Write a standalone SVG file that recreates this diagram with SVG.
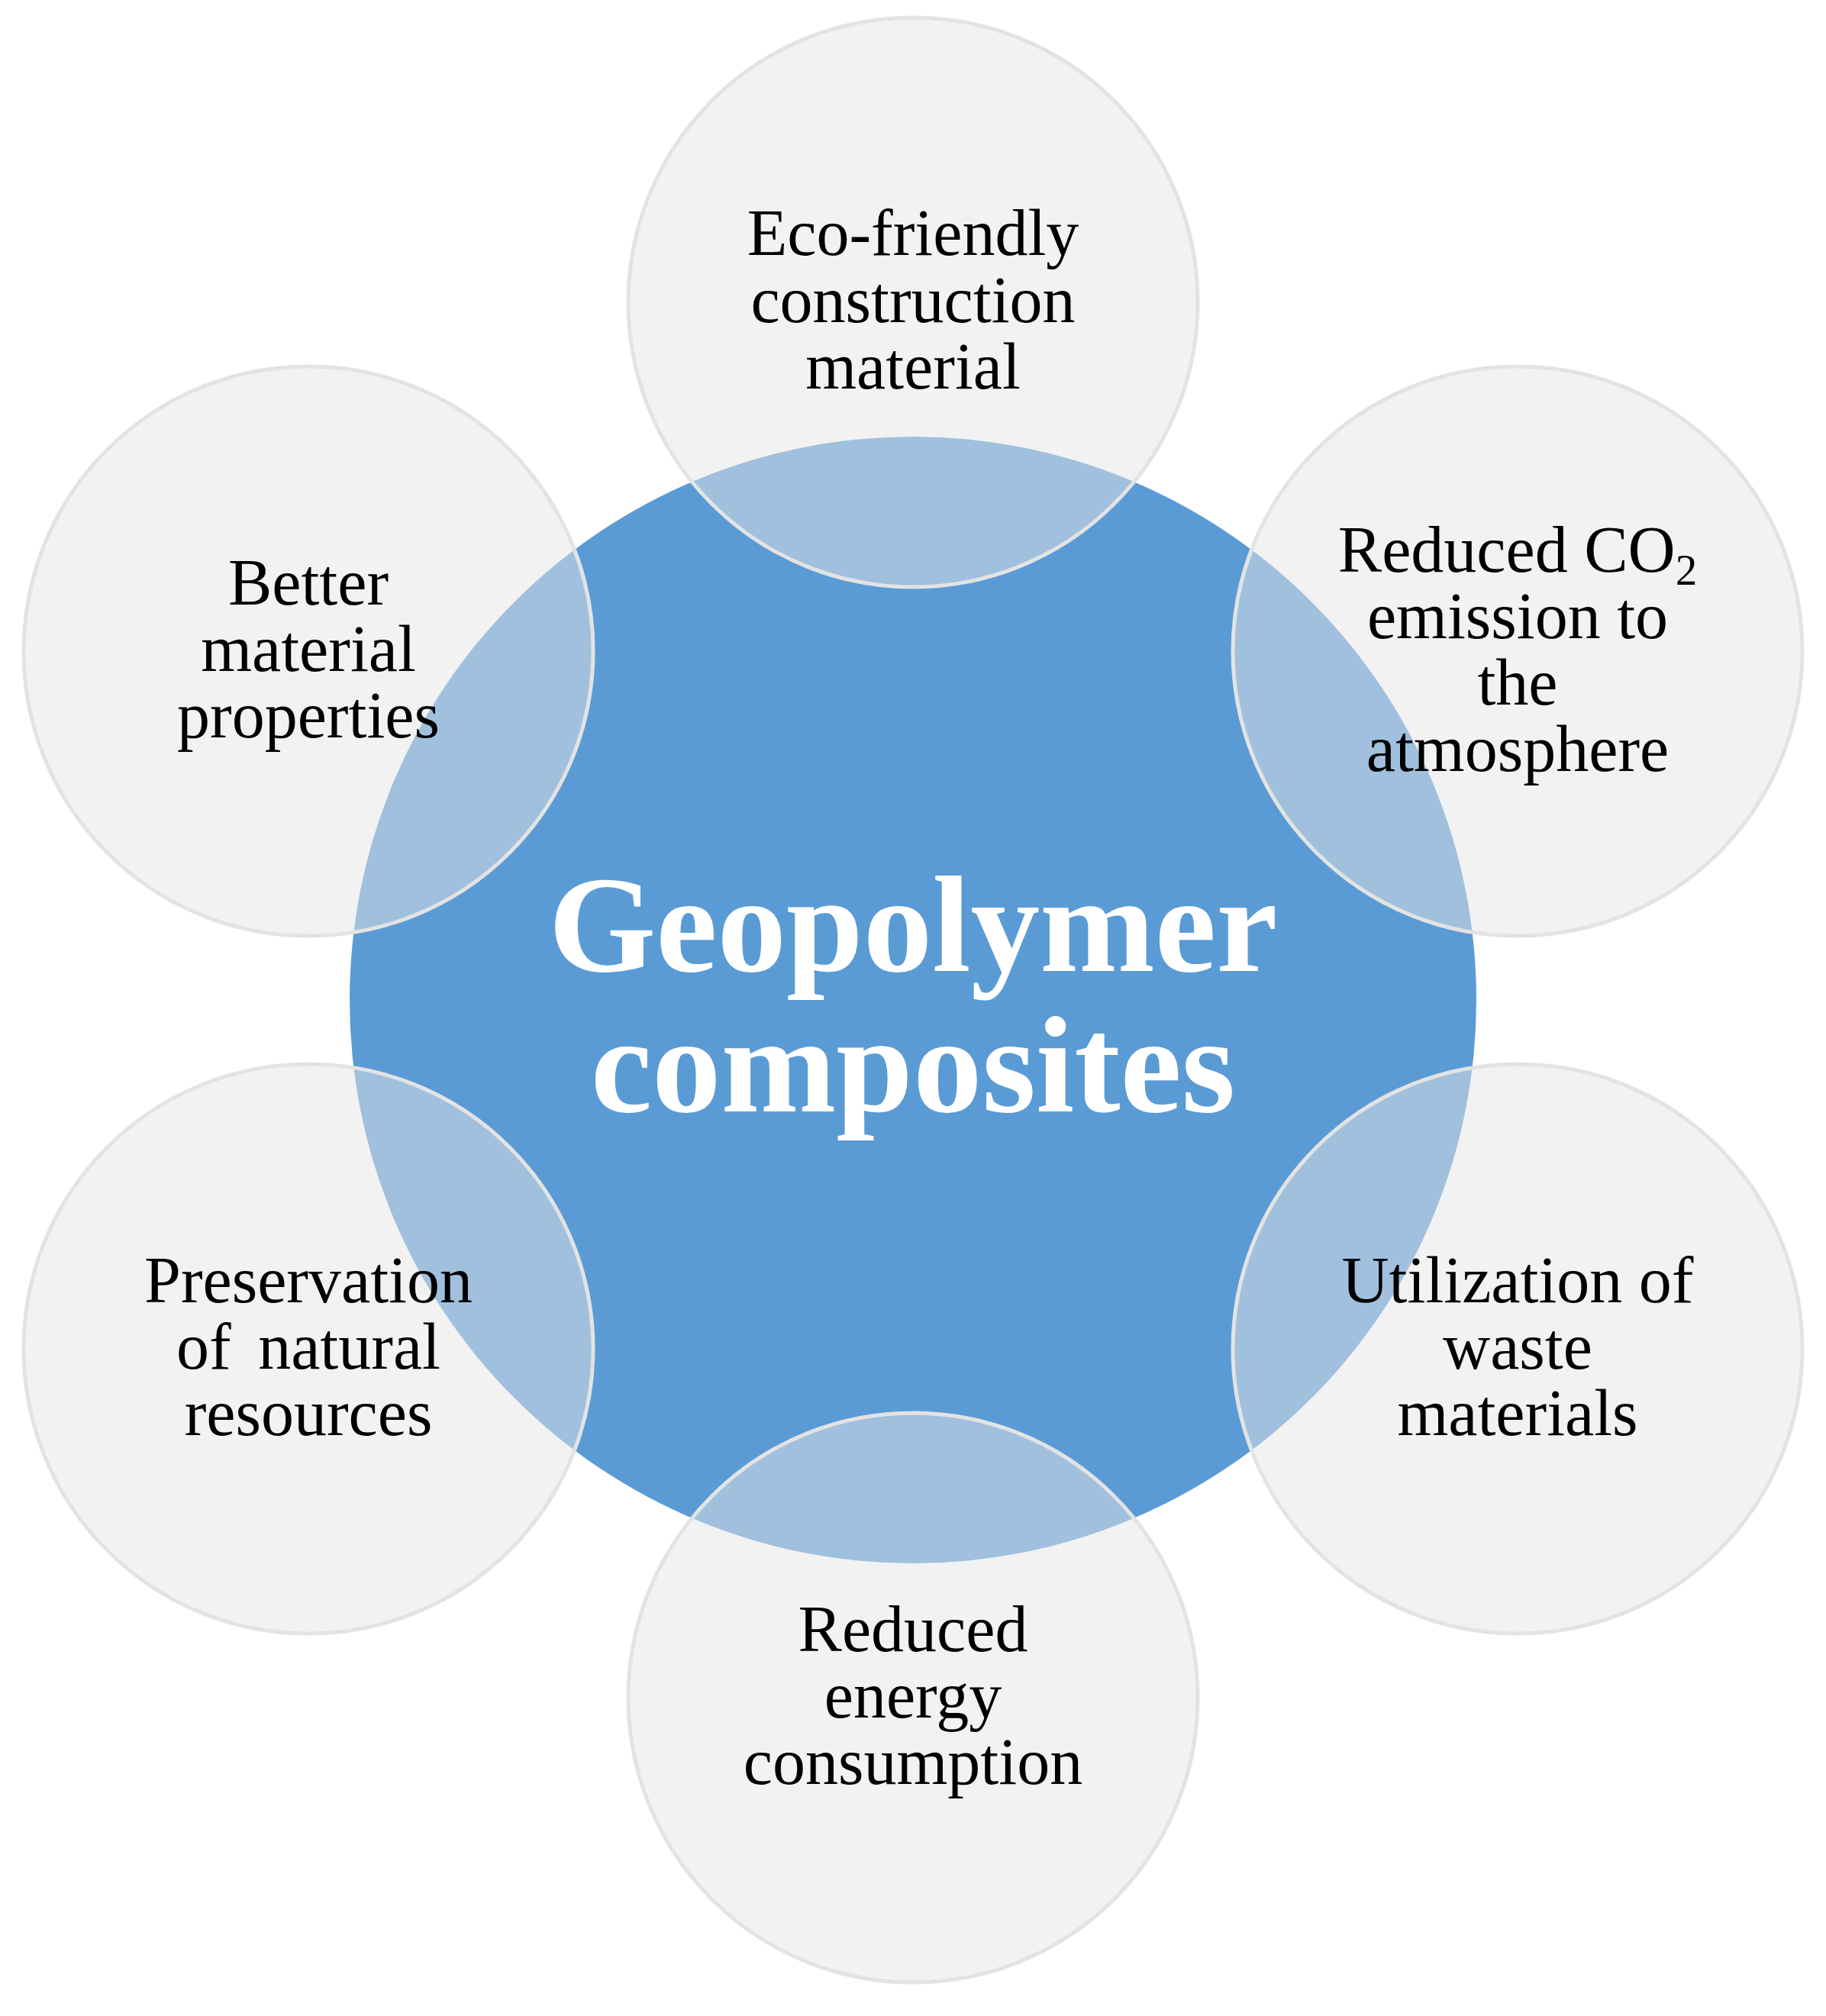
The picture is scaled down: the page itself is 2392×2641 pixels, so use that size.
<svg xmlns="http://www.w3.org/2000/svg" width="2392" height="2641" viewBox="0 0 2392 2641">
<style>
.hub{fill:#5b9bd5;}
.sat{fill:#e5e5e5;fill-opacity:0.5;stroke:#e3e3e3;stroke-width:5;}
.lbl{font-family:"Liberation Serif","Times New Roman",serif;font-size:86px;fill:#000;text-anchor:middle;}
.hubtxt{font-family:"Liberation Serif","Times New Roman",serif;font-size:181px;font-weight:bold;fill:#fff;text-anchor:middle;}
</style>
<rect width="2392" height="2641" fill="#ffffff"/>
<g id="hub">
<circle class="hub" cx="1196" cy="1310" r="738"/>
</g>
<g id="connectors"></g>
<g id="node-eco">
<circle class="sat" cx="1196" cy="396" r="373"/>
<text class="lbl"><tspan x="1196" y="334">Eco-friendly</tspan><tspan x="1196" y="422">construction</tspan><tspan x="1196" y="509">material</tspan></text>
</g>
<g id="node-co2">
<circle class="sat" cx="1988" cy="853" r="373"/>
<text class="lbl"><tspan x="1988" y="749">Reduced CO<tspan font-size="57" dy="17">2</tspan></tspan><tspan x="1988" y="836">emission to</tspan><tspan x="1988" y="923">the</tspan><tspan x="1988" y="1010">atmosphere</tspan></text>
</g>
<g id="node-waste">
<circle class="sat" cx="1988" cy="1767" r="373"/>
<text class="lbl"><tspan x="1988" y="1706">Utilization of</tspan><tspan x="1988" y="1793">waste</tspan><tspan x="1988" y="1880">materials</tspan></text>
</g>
<g id="node-energy">
<circle class="sat" cx="1196" cy="2224" r="373"/>
<text class="lbl"><tspan x="1196" y="2163">Reduced</tspan><tspan x="1196" y="2250">energy</tspan><tspan x="1196" y="2337">consumption</tspan></text>
</g>
<g id="node-preserve">
<circle class="sat" cx="404" cy="1767" r="373"/>
<text class="lbl"><tspan x="404" y="1706">Preservation</tspan><tspan x="404" y="1793" word-spacing="14">of natural</tspan><tspan x="404" y="1880">resources</tspan></text>
</g>
<g id="node-better">
<circle class="sat" cx="404" cy="853" r="373"/>
<text class="lbl"><tspan x="404" y="792">Better</tspan><tspan x="404" y="879">material</tspan><tspan x="404" y="966">properties</tspan></text>
</g>
<g id="hub-label">
<text class="hubtxt" x="1196" y="1272">Geopolymer</text>
<text class="hubtxt" x="1196" y="1456">composites</text>
</g>
</svg>
